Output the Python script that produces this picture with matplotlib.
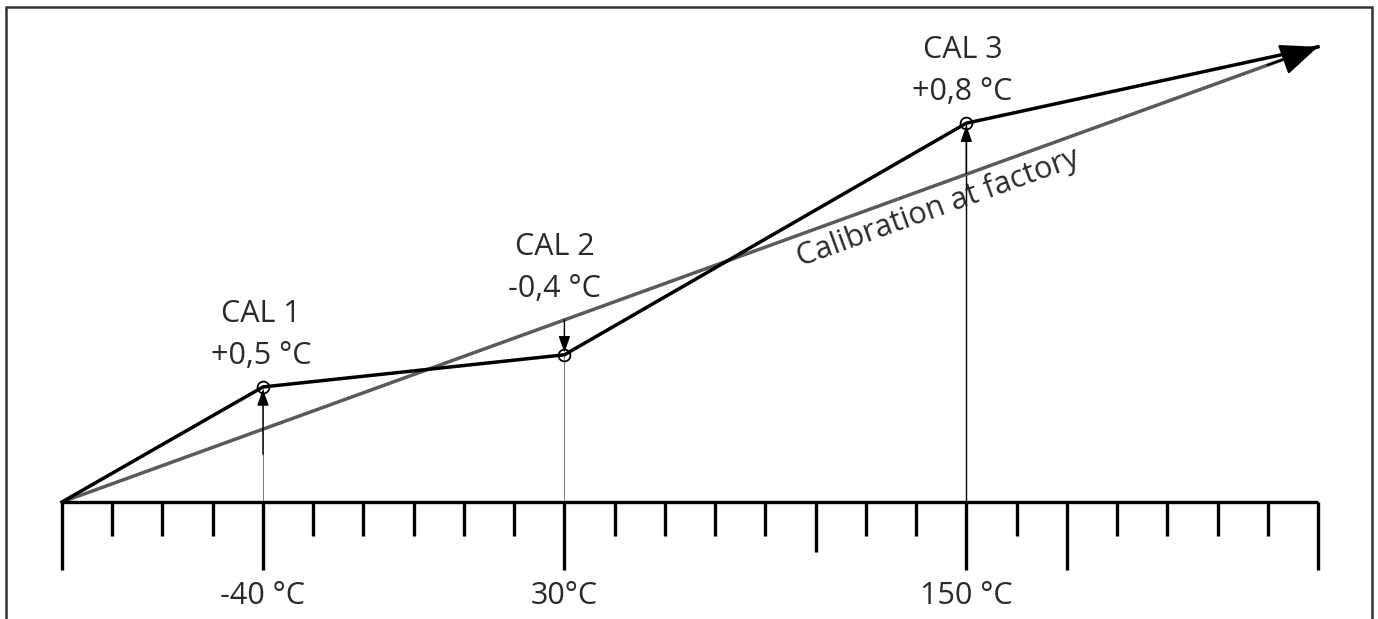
import matplotlib
matplotlib.use("Agg")
import matplotlib.pyplot as plt
from matplotlib.patches import Rectangle

plt.rcParams['font.family'] = ['Open Sans', 'DejaVu Sans']

# ---- data (schematic units: x = scale division index, y = reading) ----
n_divisions = 25
long_ticks = [0, 4, 10, 18, 20, 25]
medium_ticks = [15]
tick_label_idx = [4, 10, 18]
tick_labels = ["-40 °C", "30°C", "150 °C"]

factory_end = (25, 9.06)          # end of the factory calibration line
cal_idx = [4, 10, 18]             # calibration temperatures on the scale
cal_values = [2.29, 2.93, 7.54]   # corrected readings
cal_names = ["CAL 1", "CAL 2", "CAL 3"]
cal_offsets = ["+0,5 °C", "-0,4 °C", "+0,8 °C"]

W, H, DPI = 1378, 619, 100
U = 50.24  # px per unit
x0_px, y0_px = 62, 502
TXT = dict(fontsize=22, color='#2a2a2a', fontweight='normal')

fig = plt.figure(figsize=(W / DPI, H / DPI), dpi=DPI)
ax = fig.add_axes([0, 0, 1, 1])
ax.set_xlim(-x0_px / U, (W - x0_px) / U)
ax.set_ylim(-(H - y0_px) / U, y0_px / U)
ax.axis('off')

# frame
fig.add_artist(Rectangle((6 / W, -0.1), (1372 - 6) / W, 1.1 - 7 / H,
                         transform=fig.transFigure, fill=False,
                         edgecolor='#333333', lw=1.8))

def factory(x):
    return factory_end[1] * x / factory_end[0]

# scale
ax.plot([0, n_divisions], [0, 0], color='black', lw=2.4, solid_capstyle='butt', zorder=3)
for i in range(n_divisions + 1):
    if i in long_ticks:
        L = 1.35
    elif i in medium_ticks:
        L = 1.0
    else:
        L = 0.68
    ax.plot([i, i], [0, -L], color='black', lw=2.4, solid_capstyle='butt', zorder=3)
for i, lab in zip(tick_label_idx, tick_labels):
    ax.annotate(lab, xy=(i, -1.35), xytext=(0, -34), textcoords='offset pixels',
                ha='center', va='baseline', **TXT)

# factory line
ax.plot([0, factory_end[0]], [0, factory_end[1]], color='#5a5a5a', lw=2.5,
        solid_capstyle='butt', zorder=2)

# calibrated line
xs = [0] + cal_idx + [factory_end[0]]
ys = [0] + cal_values + [factory_end[1]]
ax.plot(xs, ys, color='black', lw=2.5, solid_joinstyle='round', zorder=4)

# end arrowhead
ax.annotate('', xy=factory_end, xytext=(factory_end[0] - 1.0, factory(factory_end[0] - 1.0)),
            arrowprops=dict(arrowstyle='-|>,head_length=2.4,head_width=1.0',
                            color='black', lw=1.5, mutation_scale=10,
                            shrinkA=0, shrinkB=0), zorder=5)

# calibration points
for k, (xi, yi) in enumerate(zip(cal_idx, cal_values)):
    fy = factory(xi)
    vcol = 'black' if k == 2 else '#777777'
    vlw = 1.0 if k == 2 else 0.7
    ax.plot([xi, xi], [0, min(yi, fy) if yi < fy else yi], color=vcol, lw=vlw, zorder=1)
    if yi >= fy:
        ax.annotate('', xy=(xi, yi), xytext=(xi, fy - 0.5 if k == 0 else yi - 1.0),
                    arrowprops=dict(arrowstyle='-|>,head_length=1.0,head_width=0.35',
                                    color='black', lw=1.0, mutation_scale=10,
                                    shrinkA=0, shrinkB=1.5), zorder=5)
        top = yi
    else:
        ax.annotate('', xy=(xi, yi), xytext=(xi, fy),
                    arrowprops=dict(arrowstyle='-|>,head_length=1.0,head_width=0.35',
                                    color='black', lw=1.0, mutation_scale=10,
                                    shrinkA=0, shrinkB=1.5), zorder=5)
        top = fy
    ax.plot([xi], [yi], marker='o', ms=8.5, mfc='none', mec='black', mew=1.3, zorder=6)
    dx = -10 if k == 1 else (-2 if k == 0 else -4)
    ax.annotate(cal_names[k], xy=(xi, top), xytext=(dx, 65), textcoords='offset pixels',
                ha='center', va='baseline', **TXT)
    ax.annotate(cal_offsets[k], xy=(xi, top), xytext=(dx, 23), textcoords='offset pixels',
                ha='center', va='baseline', **TXT)

# factory label
ax.text((938 - x0_px) / U, (y0_px - 208) / U, "Calibration at factory",
        rotation=19.9, rotation_mode='anchor', ha='center', va='center', **TXT)

fig.savefig("out.png", dpi=DPI)
